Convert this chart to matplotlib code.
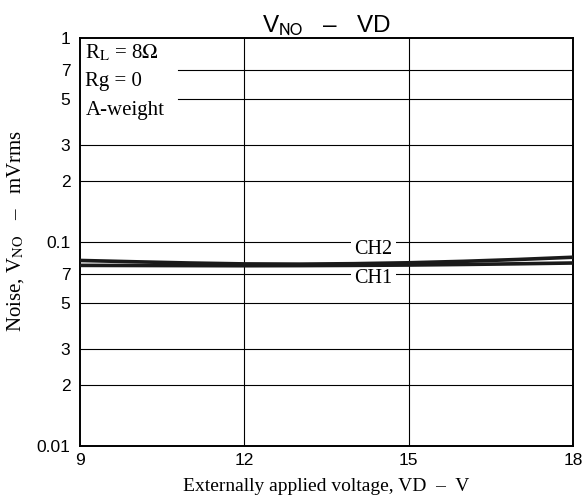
import matplotlib.pyplot as plt
from matplotlib.ticker import FixedLocator, NullLocator

# datos
vd = [9, 10, 11, 12, 13, 14, 15, 16, 17, 18]
ch2 = [0.0812, 0.0800, 0.0789, 0.0781, 0.0779, 0.0783, 0.0791, 0.0804, 0.0821, 0.0842]
ch1 = [0.0768, 0.0767, 0.0766, 0.0765, 0.0766, 0.0768, 0.0771, 0.0776, 0.0782, 0.0789]

xticks = [9, 12, 15, 18]
yticks = [0.01, 0.02, 0.03, 0.05, 0.07, 0.1, 0.2, 0.3, 0.5, 0.7, 1]
yticklabels = ['0.01', '2', '3', '5', '7', '0.1', '2', '3', '5', '7', '1']

serif = ['Liberation Serif', 'DejaVu Serif']
sans = ['Liberation Sans', 'DejaVu Sans']

fig = plt.figure(figsize=(5.83, 5.01), dpi=100)
ax = fig.add_axes([80 / 583, 55 / 501, 493 / 583, 408 / 501])
ax.set_yscale('log')
ax.set_xlim(9, 18)
ax.set_ylim(0.01, 1)

ax.xaxis.set_major_locator(FixedLocator(xticks))
ax.yaxis.set_major_locator(FixedLocator(yticks))
ax.yaxis.set_minor_locator(NullLocator())
ax.set_yticklabels(yticklabels, family=sans, fontsize=12.5)
ax.set_xticklabels([str(t) for t in xticks], family=sans, fontsize=12.5)
ax.tick_params(axis='y', length=0, pad=7)
ax.tick_params(axis='x', length=0, pad=5)

for s in ax.spines.values():
    s.set_linewidth(1.4)

# rejilla
for t in xticks[1:-1]:
    ax.axvline(t, color='black', lw=0.8, zorder=1)
for t in yticks[1:-1]:
    if t in (0.5, 0.7):
        ax.axhline(t, xmin=0.199, color='black', lw=0.8, zorder=1)
    else:
        ax.axhline(t, color='black', lw=0.8, zorder=1)

ax.plot(vd, ch2, color='#1a1a1a', lw=2.6, zorder=3)
ax.plot(vd, ch1, color='#1a1a1a', lw=2.6, zorder=3)

box = dict(facecolor='white', edgecolor='none', pad=2.5)
ax.text(14.35, 0.0915, 'CH2', family=serif, fontsize=14.5, ha='center', va='center', bbox=box, zorder=2)
ax.text(14.35, 0.066, 'CH1', family=serif, fontsize=14.5, ha='center', va='center', bbox=box, zorder=2)

ax.text(9.1, 0.84, r'R$_{\mathrm{L}}$ = 8$\Omega$', family=serif, math_fontfamily='stix',
        fontsize=15, va='center')
ax.text(9.1, 0.61, 'Rg = 0', family=serif, fontsize=15, va='center')
ax.text(9.1, 0.44, 'A-weight', family=serif, fontsize=15, va='center')

ax.set_title(r'V$_{\mathrm{NO}}$   –   VD', family=sans, math_fontfamily='stixsans',
             fontsize=17.5, pad=4)
ax.set_xlabel('Externally applied voltage, VD  –  V', family=serif, fontsize=14, labelpad=7)
fig.text(16 / 583, 1 - 231 / 501, r'Noise, V$_{\mathrm{NO}}$   –   mVrms', family=serif,
         math_fontfamily='stix', fontsize=15, rotation=90, ha='center', va='center')

plt.savefig('out.png', dpi=100)
